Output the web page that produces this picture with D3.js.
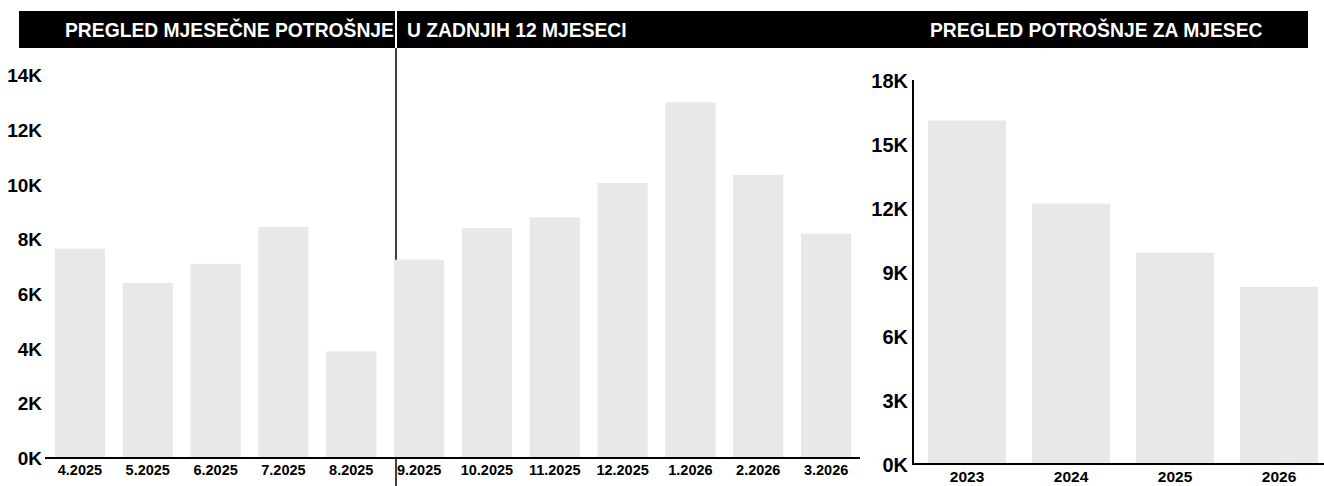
<!DOCTYPE html>
<html>
<head>
<meta charset="utf-8">
<script src="https://cdn.jsdelivr.net/npm/d3@7"></script>
<style>
  html, body { margin: 0; padding: 0; background: #fff; }
  svg { display: block; font-family: "Liberation Sans", Arial, sans-serif; }
</style>
</head>
<body>
<svg id="chart" width="1324" height="486"></svg>
<script>
// ---- data ----
const monthCategories = ["4.2025","5.2025","6.2025","7.2025","8.2025","9.2025","10.2025","11.2025","12.2025","1.2026","2.2026","3.2026"];
const monthValues = [7650, 6400, 7100, 8450, 3900, 7250, 8400, 8800, 10050, 13000, 10350, 8200];
const monthTicks = [0, 2000, 4000, 6000, 8000, 10000, 12000, 14000];
const monthTickLabels = ["0K","2K","4K","6K","8K","10K","12K","14K"];

const yearCategories = ["2023","2024","2025","2026"];
const yearValues = [16100, 12200, 9900, 8300];
const yearTicks = [0, 3000, 6000, 9000, 12000, 15000, 18000];
const yearTickLabels = ["0K","3K","6K","9K","12K","15K","18K"];

const titleLeftA = "PREGLED MJESEČNE POTROŠNJE";
const titleLeftB = "U ZADNJIH 12 MJESECI";
const titleRight = "PREGLED POTROŠNJE ZA MJESEC";

// ---- drawing ----
const svg = d3.select("#chart");
const barFill = "#e8e8e8";
const FONT = "Liberation Sans, Arial, sans-serif";

// header band
svg.append("rect").attr("x", 19).attr("y", 11).attr("width", 1289).attr("height", 37).attr("fill", "#000");
// divider
svg.append("line").attr("x1", 396).attr("x2", 396).attr("y1", 48).attr("y2", 486)
  .attr("stroke", "#000").attr("stroke-width", 1.5);
svg.append("line").attr("x1", 396).attr("x2", 396).attr("y1", 11).attr("y2", 48)
  .attr("stroke", "#fff").attr("stroke-width", 2);

const titleStyle = sel => sel.attr("fill", "#fff").attr("font-size", 19.3).attr("font-weight", "bold");
svg.append("text").attr("x", 65).attr("y", 37).text(titleLeftA).call(titleStyle);
svg.append("text").attr("x", 407).attr("y", 37).text(titleLeftB).call(titleStyle);
svg.append("text").attr("x", 930).attr("y", 37).text(titleRight).call(titleStyle);

// ---- left chart ----
const xL = d3.scaleBand().domain(monthCategories).range([46, 860]).paddingInner(0.26).paddingOuter(0.13);
const yL = d3.scaleLinear().domain([0, 14000]).range([458, 75]);

svg.append("g").selectAll("rect").data(monthValues).join("rect")
  .attr("x", (d, i) => xL(monthCategories[i]))
  .attr("y", d => yL(d))
  .attr("width", xL.bandwidth())
  .attr("height", d => yL(0) - yL(d))
  .attr("fill", barFill);

const axL = svg.append("g").attr("transform", "translate(0,458)")
  .call(d3.axisBottom(xL).tickSize(0).tickPadding(0).tickSizeOuter(0));
axL.select(".domain").attr("stroke", "#000").attr("stroke-width", 2).attr("d", "M45,0H860");
axL.selectAll("text").attr("dy", null).attr("y", 17).attr("font-size", 14.5).attr("font-weight", "bold")
  .attr("fill", "#000").attr("font-family", FONT);

const ayL = svg.append("g").attr("transform", "translate(42,0)")
  .call(d3.axisLeft(yL).tickValues(monthTicks).tickFormat((d, i) => monthTickLabels[i]).tickSize(0).tickPadding(0));
ayL.select(".domain").remove();
ayL.selectAll("text").attr("dy", "0.35em").attr("font-size", 19).attr("font-weight", "bold")
  .attr("fill", "#000").attr("font-family", FONT);

// ---- right chart ----
const xR = d3.scaleBand().domain(yearCategories).range([915, 1331]).paddingInner(0.25).paddingOuter(0.125);
const yR = d3.scaleLinear().domain([0, 18000]).range([464, 80]);

svg.append("g").selectAll("rect").data(yearValues).join("rect")
  .attr("x", (d, i) => xR(yearCategories[i]))
  .attr("y", d => yR(d))
  .attr("width", xR.bandwidth())
  .attr("height", d => yR(0) - yR(d))
  .attr("fill", barFill);

const axR = svg.append("g").attr("transform", "translate(0,464)")
  .call(d3.axisBottom(xR).tickSize(0).tickPadding(0).tickSizeOuter(0));
axR.select(".domain").attr("stroke", "#000").attr("stroke-width", 2).attr("d", "M913,0H1324");
axR.selectAll("text").attr("dy", null).attr("y", 18).attr("font-size", 15.5).attr("font-weight", "bold")
  .attr("fill", "#000").attr("font-family", FONT);

const ayR = svg.append("g").attr("transform", "translate(913,0)")
  .call(d3.axisLeft(yR).tickValues(yearTicks).tickFormat((d, i) => yearTickLabels[i]).tickSize(0).tickPadding(5));
ayR.select(".domain").attr("stroke", "#000").attr("stroke-width", 2).attr("d", "M0,80V465");
ayR.selectAll("text").attr("dy", "0.35em").attr("font-size", 20).attr("font-weight", "bold")
  .attr("fill", "#000").attr("font-family", FONT);
</script>
</body>
</html>
